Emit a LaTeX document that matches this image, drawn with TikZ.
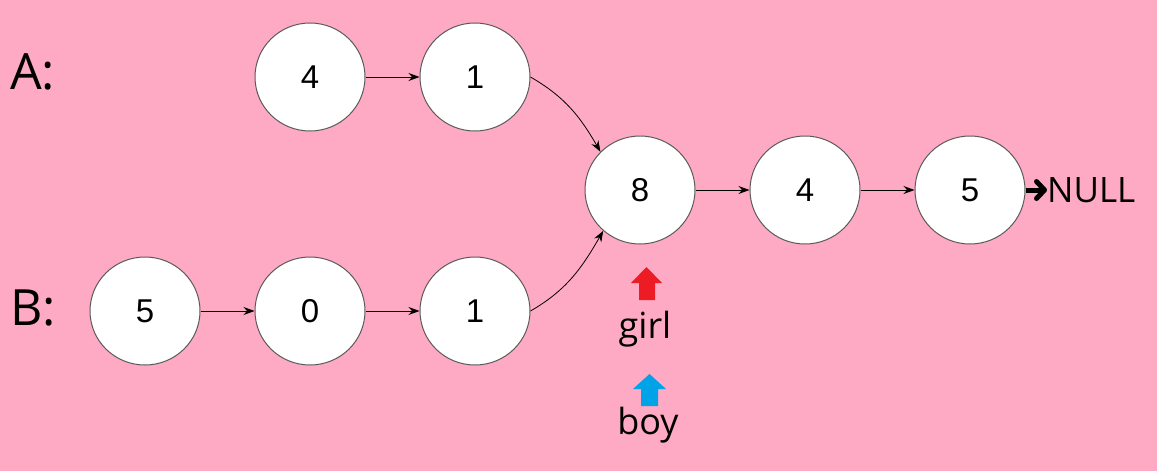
\documentclass[tikz,border=0pt]{standalone}
\usepackage{fontspec}
\setmainfont{Open Sans}
\newfontfamily\numfont{Liberation Sans}
\usetikzlibrary{arrows.meta,shapes.geometric}
\definecolor{bgpink}{RGB}{255,170,196}
\definecolor{nodeedge}{RGB}{90,90,90}
\definecolor{girlred}{RGB}{237,28,36}
\definecolor{boyblue}{RGB}{0,162,232}
\tikzset{
  lnode/.style={ellipse,draw=nodeedge,line width=1pt,fill=white,minimum width=110pt,minimum height=108pt,inner sep=0pt,font=\numfont\fontsize{33}{36}\selectfont},
  link/.style={line width=0.8pt,-{Stealth[length=11pt,width=8pt]}},
  lbl/.style={font=\fontsize{50}{56}\selectfont,inner sep=0pt},
  ptr/.style={font=\fontsize{36}{42}\selectfont,inner sep=0pt}
}
\begin{document}
\begin{tikzpicture}[x=1pt,y=-1pt]
\fill[bgpink] (0,0) rectangle (1157,471);
\useasboundingbox (0,0) rectangle (1157,471);
\node[lbl,anchor=west] (la) at (10,72) {A:};
\node[lbl,anchor=west] (lb) at (10,308) {B:};
\node[lnode] (a4) at (310,77) {4};
\node[lnode] (a1) at (475,77) {1};
\node[lnode] (b5) at (145,311) {5};
\node[lnode] (b0) at (310,311) {0};
\node[lnode] (b1) at (475,311) {1};
\node[lnode] (c8) at (640,190) {8};
\node[lnode] (c4) at (805,190) {4};
\node[lnode] (c5) at (970,190) {5};
\node[anchor=west,inner sep=0pt,font=\fontsize{35}{40}\selectfont] (nul) at (1047,190) {NULL};
\draw[link] (a4) -- (a1);
\draw[link] (b5) -- (b0);
\draw[link] (b0) -- (b1);
\draw[link] (c8) -- (c4);
\draw[link] (c4) -- (c5);
\draw[link] (a1.east) to[out=-30,in=120] (c8.136);
\draw[link] (b1.east) to[out=30,in=-120] (c8.228);
\draw[line width=5pt,-{Straight Barb[length=8pt,width=17pt,round]}] (c5.east) -- (nul.west);
\fill[girlred] (631,283) -- (646.5,267) -- (662,283) -- (655,283) -- (655,300) -- (639,300) -- (639,283) -- cycle;
\fill[boyblue] (633,389) -- (649.5,374) -- (666,389) -- (658,389) -- (658,406) -- (641,406) -- (641,389) -- cycle;
\node[ptr] (girl) at (645,329) {girl};
\node[ptr] (boy) at (648,425) {boy};
\end{tikzpicture}
\end{document}
